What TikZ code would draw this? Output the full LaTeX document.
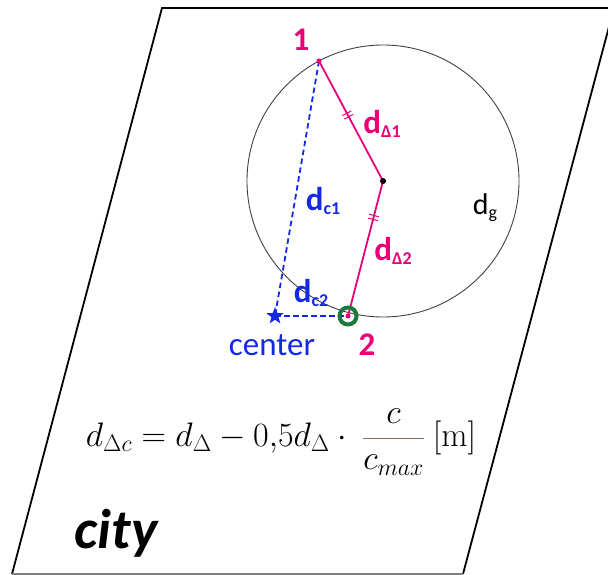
\RequirePackage{fix-cm}
\documentclass[tikz,border=0pt]{standalone}
\usepackage{amsmath}
\usepackage{fontspec}
\setmainfont{Carlito}
\newfontfamily\lmr{Latin Modern Roman}
\usetikzlibrary{shapes.geometric,calc}
\definecolor{pinkc}{RGB}{232,0,118}
\definecolor{bluec}{RGB}{20,40,230}
\definecolor{greenc}{RGB}{30,120,60}
\definecolor{barc}{RGB}{140,110,100}
\tikzset{
  pinkline/.style={pinkc, line width=1.8pt},
  blueline/.style={bluec, line width=1.8pt, dash pattern=on 5.5pt off 3.5pt},
  lab/.style={inner sep=0pt, font=\bfseries\fontsize{33}{33}\selectfont},
  plab/.style={lab, text=pinkc},
  blab/.style={lab, text=bluec},
  tickmark/.style={pinkc, line width=1pt},
}
\newcommand{\sub}[1]{\raisebox{-4pt}{\fontsize{18}{18}\selectfont #1}}
\newcommand{\dticks}[2]{%
  \coordinate (ta) at ($(#1)!2pt!(#2)$);
  \coordinate (tb) at ($(#1)!-2pt!(#2)$);
  \draw[tickmark] ($(ta)!5pt!90:(#2)$) -- ($(ta)!5pt!-90:(#2)$);
  \draw[tickmark] ($(tb)!5pt!90:(#2)$) -- ($(tb)!5pt!-90:(#2)$);
}
\begin{document}
\begin{tikzpicture}[x=1pt,y=-1pt]
\useasboundingbox (0,0) rectangle (608,575);
% parallelogram
\coordinate (TL) at (162,8);
\coordinate (TR) at (614,8);
\coordinate (BR) at (463,574);
\coordinate (BL) at (12,574);
\draw[line width=1.8pt] (BL) -- (TL) -- (TR);
\draw[line width=1.8pt] (TR) -- (BR);
\draw[line width=1.2pt, black!50] (BL) -- (BR);
% circle
\coordinate (C) at (383,181);
\draw[black!75, line width=0.9pt] (C) circle (136);
% points
\coordinate (P1) at (319,61);
\coordinate (P2) at (348,316);
\node[star, star points=5, star point ratio=2.4, fill=bluec, inner sep=0pt, minimum size=18pt] (S) at (275,316) {};
% connectors
\draw[blueline] (P1) -- (S.center);
\draw[blueline] (S.center) -- (P2);
\draw[pinkline] (P1) -- (C) -- (P2);
% tick marks
\path (P1) -- (C) coordinate[pos=0.45] (T1);
\path (C) -- (P2) coordinate[pos=0.27] (T2);
\dticks{T1}{C}
\dticks{T2}{P2}
\fill[pinkc] (P1) circle (2.5);
\fill[black] (C) circle (3);
\draw[greenc, line width=4pt] (P2) circle (8.5);
\fill[pinkc] (P2) circle (2.5);
% labels
\node[plab] (n1) at (301,40) {1};
\node[plab] (n2) at (367,345) {2};
\node[inner sep=0pt, text=bluec, font=\fontsize{33}{33}\selectfont] (cen) at (272,345) {center};
\node[plab] (dD1) at (382,124) {d\sub{Δ1}};
\node[plab] (dD2) at (393,251) {d\sub{Δ2}};
\node[blab] (dc1) at (323,201) {d\sub{c1}};
\node[blab] (dc2) at (311,293) {d\sub{c2}};
\node[inner sep=0pt, font=\fontsize{30}{30}\selectfont] (dg) at (485,208) {d\sub{g}};
\node[inner sep=0pt, font=\bfseries\itshape\fontsize{56}{56}\selectfont] (city) at (116,533) {city};
\node[inner sep=0pt, font=\fontsize{34}{34}\selectfont] (f) at (281,442)
 {$d_{\Delta c} = d_\Delta - 0{,}5 d_\Delta\cdot\ {\color{barc}\dfrac{\color{black}c}{\color{black}c_{max}}}\ \text{\lmr[m]}$};
\end{tikzpicture}
\end{document}
